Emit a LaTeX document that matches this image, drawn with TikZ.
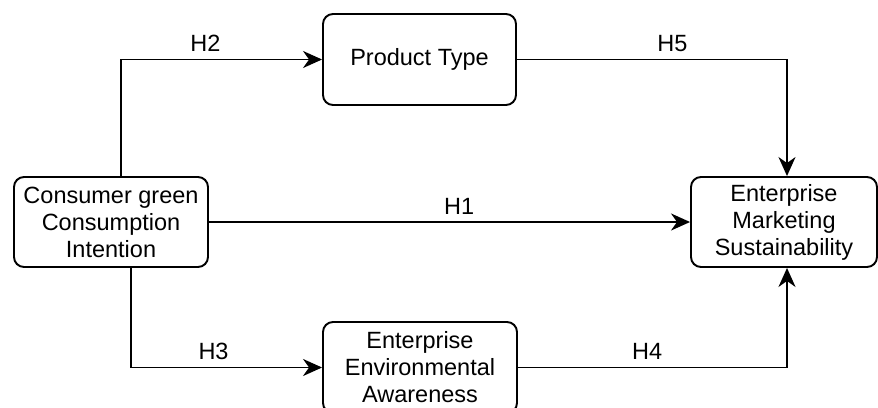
\documentclass[tikz,border=0pt]{standalone}
\usepackage{fontspec}
\setmainfont{Liberation Sans}
\usepackage{tikz}
\usetikzlibrary{arrows.meta}

\begin{document}
\begin{tikzpicture}[x=1pt, y=-1pt,
  line width=1.9pt,
  every node/.style={font=\fontsize{23.5}{27}\selectfont},
  box/.style={draw, rounded corners=10pt, align=center, inner sep=0pt, minimum height=90pt},
  hyp/.style={inner sep=0pt, above=7pt},
  arr/.style={-{Stealth[length=19pt, width=17pt, inset=6pt]}}]
\clip (0,0) rectangle (878,407);
\node[box, minimum width=194pt] (cons) at (111,222) {Consumer green\\Consumption\\Intention};
\node[box, minimum width=193pt, minimum height=91pt] (type) at (419.5,59.5) {Product Type};
\node[box, minimum width=194pt, minimum height=91pt] (env) at (420,367.5) {Enterprise\\Environmental\\Awareness};
\node[box, minimum width=186pt] (ems) at (784,222) {Enterprise\\Marketing\\Sustainability};

\draw[arr] (cons) -- node[hyp, pos=0.52] {H1} (ems);
\draw[arr] ([xshift=10pt]cons.north) |- node[hyp, pos=0.71] {H2} (type.west);
\draw[arr] ([xshift=20pt]cons.south) |- node[hyp, pos=0.716] {H3} (env.west);
\draw[arr] (env.east) -| node[hyp, pos=0.24] {H4} ([xshift=3pt]ems.south);
\draw[arr] (type.east) -| node[hyp, pos=0.288] {H5} ([xshift=3pt]ems.north);
\end{tikzpicture}
\end{document}
